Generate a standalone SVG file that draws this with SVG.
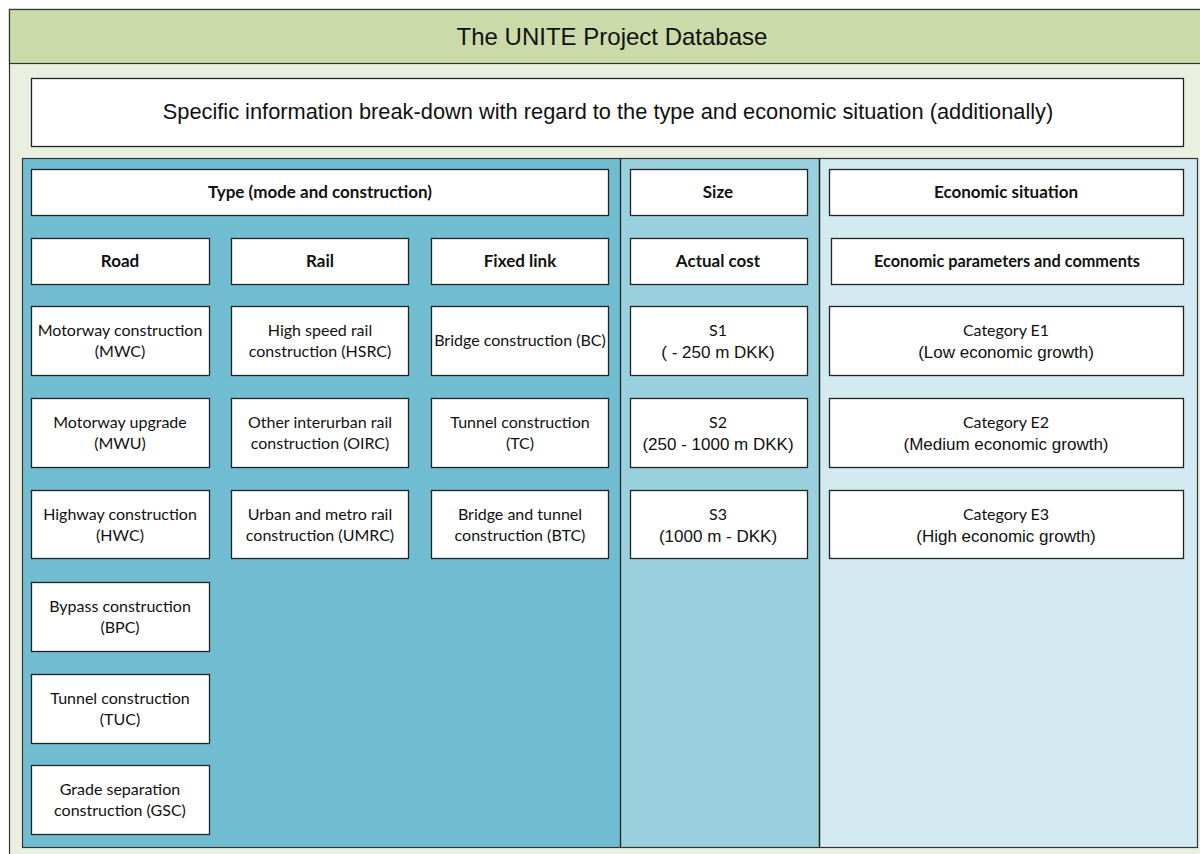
<svg xmlns="http://www.w3.org/2000/svg" width="1200" height="854" viewBox="0 0 1200 854">
<style>
.box{fill:#fff;stroke:#222;stroke-width:1.3}
.c{font-family:Lato,"Open Sans",sans-serif;font-size:16px;fill:#111;text-anchor:middle}
.b{font-weight:bold;font-size:17px}
.a{font-family:"Liberation Sans",Arial,sans-serif;font-size:17px;fill:#111;text-anchor:middle}
.big{font-family:"Liberation Sans",Arial,sans-serif;font-size:24px;fill:#111;text-anchor:middle}
.sub{font-family:"Liberation Sans",Arial,sans-serif;font-size:21.8px;fill:#111;text-anchor:middle}
.bs{font-size:16.3px}
</style>
<rect width="1200" height="854" fill="#fff"/>
<g id="frame">
<rect x="9.5" y="9.5" width="1200" height="860" fill="#EBEFDF" stroke="#333" stroke-width="1.2"/>
<rect x="9.5" y="9.5" width="1200" height="54" fill="#CBDAA9" stroke="#333" stroke-width="1.2"/>
<text class="big" x="612" y="45">The UNITE Project Database</text>
</g>
<g id="subtitle">
<rect class="box" x="31.5" y="78.5" width="1152" height="68" stroke="#444"/>
<text class="sub" x="608" y="119">Specific information break-down with regard to the type and economic situation (additionally)</text>
</g>
<g id="panels">
<rect x="22.5" y="158.5" width="598" height="689" fill="#70BDD2"/>
<rect x="620.5" y="158.5" width="199" height="689" fill="#99D0DE"/>
<rect x="819.5" y="158.5" width="378" height="689" fill="#D2EAF0"/>
<rect x="22.5" y="158.5" width="1175" height="689" fill="none" stroke="#333" stroke-width="1.2"/>
<line x1="620.5" y1="158.5" x2="620.5" y2="847.5" stroke="#222" stroke-width="1.3"/>
<line x1="819.5" y1="158.5" x2="819.5" y2="847.5" stroke="#222" stroke-width="1.5"/>
</g>
<g id="type"><rect class="box" x="31.5" y="169.5" width="577" height="46"/><text class="c b" x="320" y="198">Type (mode and construction)</text></g>
<g id="size"><rect class="box" x="630.5" y="169.5" width="177" height="46"/><text class="c b" x="718" y="198">Size</text></g>
<g id="econ"><rect class="box" x="829.5" y="169.5" width="354" height="46"/><text class="c b" x="1006" y="198">Economic situation</text></g>
<g id="road"><rect class="box" x="31.5" y="238.5" width="178" height="46"/><text class="c b" x="120" y="267">Road</text></g>
<g id="rail"><rect class="box" x="231.5" y="238.5" width="177" height="46"/><text class="c b" x="320" y="267">Rail</text></g>
<g id="fixed"><rect class="box" x="431.5" y="238.5" width="177" height="46"/><text class="c b" x="520" y="267">Fixed link</text></g>
<g id="actual"><rect class="box" x="630.5" y="238.5" width="177" height="46"/><text class="c b" x="718" y="267">Actual cost</text></g>
<g id="params"><rect class="box" x="831.5" y="238.5" width="352" height="46"/><text class="c b bs" x="1007" y="267">Economic parameters and comments</text></g>

<g id="mwc"><rect class="box" x="31.5" y="306.5" width="178" height="69"/><text class="c" x="120" y="336">Motorway construction</text><text class="c" x="120" y="357">(MWC)</text></g>
<g id="mwu"><rect class="box" x="31.5" y="398.5" width="178" height="69"/><text class="c" x="120" y="428">Motorway upgrade</text><text class="c" x="120" y="449">(MWU)</text></g>
<g id="hwc"><rect class="box" x="31.5" y="490.5" width="178" height="68"/><text class="c" x="120" y="520">Highway construction</text><text class="c" x="120" y="541">(HWC)</text></g>
<g id="bpc"><rect class="box" x="31.5" y="582.5" width="178" height="69"/><text class="c" x="120" y="612">Bypass construction</text><text class="c" x="120" y="633">(BPC)</text></g>
<g id="tuc"><rect class="box" x="31.5" y="674.5" width="178" height="69"/><text class="c" x="120" y="704">Tunnel construction</text><text class="c" x="120" y="725">(TUC)</text></g>
<g id="gsc"><rect class="box" x="31.5" y="765.5" width="178" height="69"/><text class="c" x="120" y="795">Grade separation</text><text class="c" x="120" y="816">construction (GSC)</text></g>

<g id="hsrc"><rect class="box" x="231.5" y="306.5" width="177" height="69"/><text class="c" x="320" y="336">High speed rail</text><text class="c" x="320" y="357">construction (HSRC)</text></g>
<g id="oirc"><rect class="box" x="231.5" y="398.5" width="177" height="69"/><text class="c" x="320" y="428">Other interurban rail</text><text class="c" x="320" y="449">construction (OIRC)</text></g>
<g id="umrc"><rect class="box" x="231.5" y="490.5" width="177" height="68"/><text class="c" x="320" y="520">Urban and metro rail</text><text class="c" x="320" y="541">construction (UMRC)</text></g>

<g id="bc"><rect class="box" x="431.5" y="306.5" width="177" height="69"/><text class="c" x="520" y="346">Bridge construction (BC)</text></g>
<g id="tc"><rect class="box" x="431.5" y="398.5" width="177" height="69"/><text class="c" x="520" y="428">Tunnel construction</text><text class="c" x="520" y="449">(TC)</text></g>
<g id="btc"><rect class="box" x="431.5" y="490.5" width="177" height="68"/><text class="c" x="520" y="520">Bridge and tunnel</text><text class="c" x="520" y="541">construction (BTC)</text></g>

<g id="s1"><rect class="box" x="630.5" y="306.5" width="177" height="69"/><text class="c" x="718" y="336">S1</text><text class="a" x="718" y="358">( - 250 m DKK)</text></g>
<g id="s2"><rect class="box" x="630.5" y="398.5" width="177" height="69"/><text class="c" x="718" y="428">S2</text><text class="a" x="718" y="450">(250 - 1000 m DKK)</text></g>
<g id="s3"><rect class="box" x="630.5" y="490.5" width="177" height="68"/><text class="c" x="718" y="520">S3</text><text class="a" x="718" y="542">(1000 m - DKK)</text></g>

<g id="e1"><rect class="box" x="829.5" y="306.5" width="354" height="69"/><text class="c" x="1006" y="336">Category E1</text><text class="a" x="1006" y="358">(Low economic growth)</text></g>
<g id="e2"><rect class="box" x="829.5" y="398.5" width="354" height="69"/><text class="c" x="1006" y="428">Category E2</text><text class="a" x="1006" y="450">(Medium economic growth)</text></g>
<g id="e3"><rect class="box" x="829.5" y="490.5" width="354" height="68"/><text class="c" x="1006" y="520">Category E3</text><text class="a" x="1006" y="542">(High economic growth)</text></g>
<g id="connectors"></g>
</svg>
